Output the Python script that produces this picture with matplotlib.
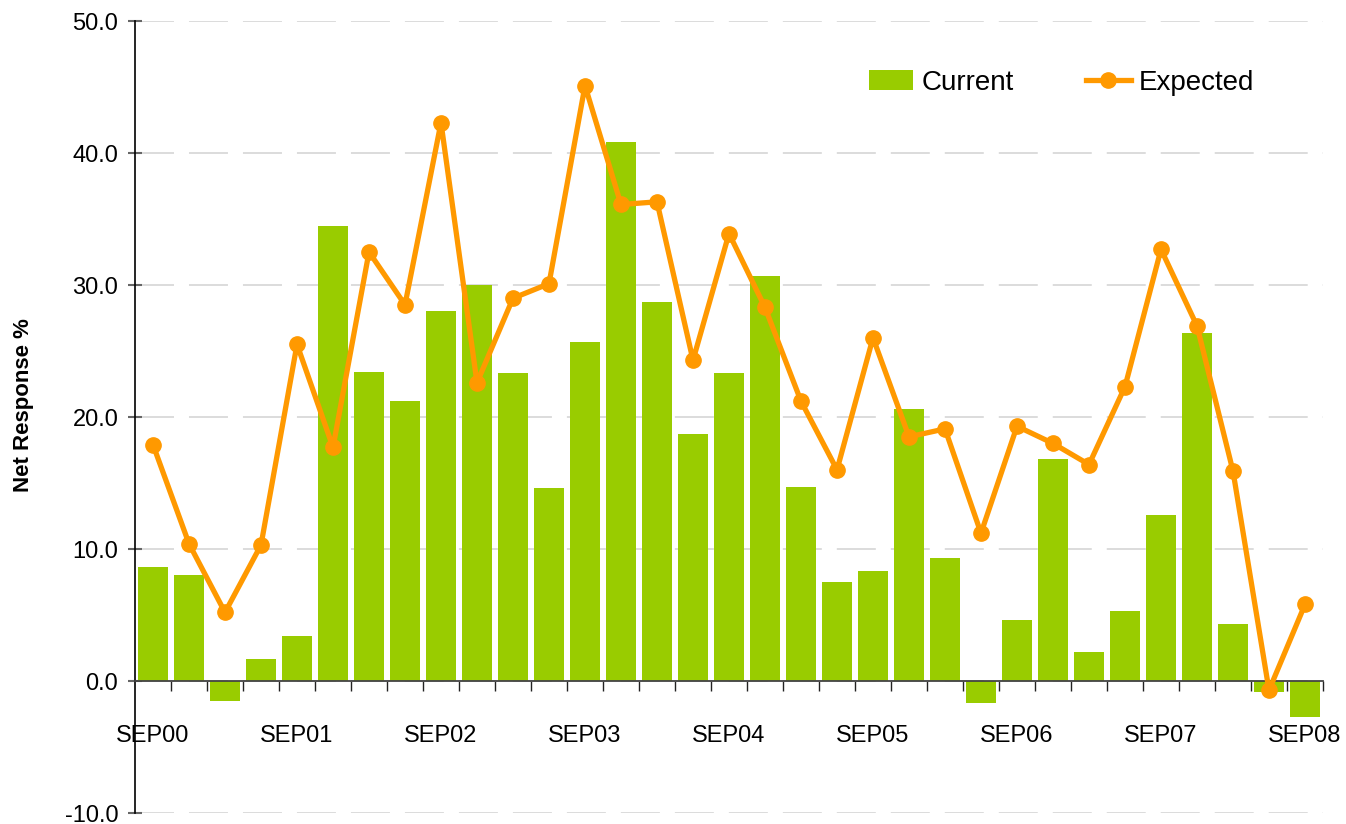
import matplotlib.pyplot as plt
import numpy as np

plt.rcParams['font.family'] = ['Liberation Sans', 'DejaVu Sans']

quarters = ["SEP00", "DEC00", "MAR01", "JUN01", "SEP01", "DEC01", "MAR02", "JUN02",
            "SEP02", "DEC02", "MAR03", "JUN03", "SEP03", "DEC03", "MAR04", "JUN04",
            "SEP04", "DEC04", "MAR05", "JUN05", "SEP05", "DEC05", "MAR06", "JUN06",
            "SEP06", "DEC06", "MAR07", "JUN07", "SEP07", "DEC07", "MAR08", "JUN08",
            "SEP08"]
current = [8.6, 8.0, -1.5, 1.7, 3.4, 34.5, 23.4, 21.2, 28.0, 30.0, 23.3, 14.6,
           25.7, 40.8, 28.7, 18.7, 23.3, 30.7, 14.7, 7.5, 8.3, 20.6, 9.3, -1.7,
           4.6, 16.8, 2.2, 5.3, 12.6, 26.4, 4.3, -0.8, -2.7]
expected = [17.9, 10.4, 5.2, 10.3, 25.5, 17.7, 32.5, 28.5, 42.3, 22.6, 29.0, 30.1,
            45.1, 36.1, 36.3, 24.3, 33.9, 28.3, 21.2, 16.0, 26.0, 18.5, 19.1, 11.2,
            19.3, 18.0, 16.4, 22.3, 32.7, 26.9, 15.9, -0.7, 5.8]

x = np.arange(len(quarters))

fig = plt.figure(figsize=(13.46, 8.24), dpi=100)
ax = fig.add_axes([135/1346, 11/824, 1188/1346, 792/824])

bars = ax.bar(x, current, width=0.83, color='#99CC00', label='Current', zorder=2)
line, = ax.plot(x, expected, color='#FF9900', lw=3.8, marker='o', ms=11,
                label='Expected', zorder=3)

ax.set_xlim(-0.5, len(x) - 0.5)
ax.set_ylim(-10, 50)
yt = np.arange(-10, 51, 10)
ax.set_yticks(yt)
ax.set_yticklabels([f"{v:.1f}" for v in yt])
ax.yaxis.grid(True, color='#d9d9d9', ls=(0, (21.6, 8.3)), lw=1.3, zorder=0)
ax.tick_params(axis='y', direction='inout', length=10, width=1.5, color='#666666',
               pad=7, labelsize=17)

# category labels every fourth quarter, tick marks at bar boundaries
ax.set_xticks(x[::4])
ax.set_xticklabels(quarters[::4])
ax.set_xticks(np.arange(0.5, len(x), 1), minor=True)
ax.tick_params(axis='x', which='major', length=0, pad=32, labelsize=17)
ax.tick_params(axis='x', which='minor', direction='out', length=7, width=1, color='#222222')

ax.spines['top'].set_visible(False)
ax.spines['right'].set_visible(False)
ax.spines['bottom'].set_position(('data', 0))
ax.spines['bottom'].set_color('#444444')
ax.spines['bottom'].set_linewidth(1.3)
ax.spines['left'].set_linewidth(1.2)

ax.set_ylabel("Net Response %", fontsize=16, fontweight='bold')
ax.yaxis.set_label_coords(-0.085, 0.515)

ax.legend(handles=[bars, line], loc='center', bbox_to_anchor=(0.78, 0.922), ncol=2,
          frameon=False, fontsize=20, columnspacing=2.6, handlelength=1.6,
          handletextpad=0.3)

fig.savefig('out.png', dpi=100)
